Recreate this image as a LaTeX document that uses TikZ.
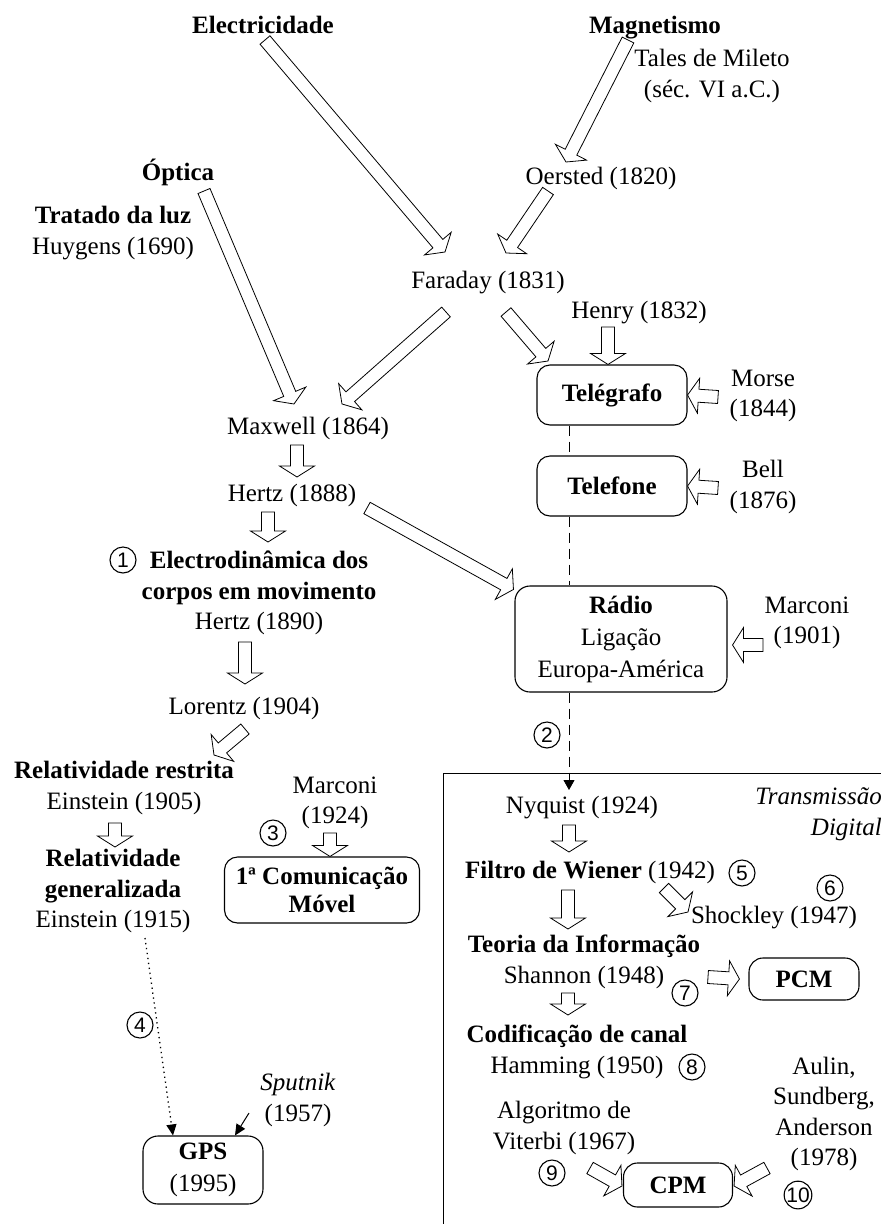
\documentclass[tikz,border=0pt]{standalone}
\usepackage{fontspec}
\setmainfont{Liberation Serif}
\newfontfamily\numfont{Liberation Sans}
\usetikzlibrary{calc,arrows.meta}

\tikzset{
  lbl/.style={inner sep=0pt, align=center},
  single/.style={lbl, text height=17.5pt, text depth=5.5pt},
  box/.style={draw, line width=1.1pt, rounded corners=13pt, fill=white,
    inner sep=0pt, align=center},
  num/.style={circle, draw, line width=1.1pt, inner sep=0pt, minimum size=26pt,
    font=\numfont\fontsize{21}{21}\selectfont},
  % hollow block arrow from the start point (tail) to the target point (tip)
  blk/.style={draw, line width=0.8pt, fill=white, line join=miter,
    to path={let \p1=(\tikztostart), \p2=(\tikztotarget),
      \n1={atan2(\y2-\y1,\x2-\x1)}, \n2={veclen(\x2-\x1,\y2-\y1)-11} in
      ($(\p1)+(\n1+90:6.5)$) -- ++(\n1:\n2) -- ++(\n1+90:11) -- (\p2)
      -- ($(\p2)+(\n1+180:11)+(\n1-90:17.5)$) -- ++(\n1+90:11)
      -- ($(\p1)+(\n1-90:6.5)$) -- cycle}},
  dashlink/.style={line width=0.9pt, dash pattern=on 10pt off 6pt},
  dotlink/.style={line width=1.3pt, dash pattern=on 1.3pt off 3.7pt,
    -{Triangle[length=11pt,width=10pt]}},
  solidlink/.style={line width=1pt, -{Triangle[length=11pt,width=10pt]}},
}

\begin{document}
\begin{tikzpicture}[x=1pt, y=1pt, font=\fontsize{25}{30.5}\selectfont]
\useasboundingbox (0,0) rectangle (881,-1224);

% ---------- origins ----------
\node[single] (elec) at (263,-27) {\textbf{Electricidade}};
\node[single] (magn) at (655,-27) {\textbf{Magnetismo}};
\node[lbl] (tales) at (712,-76) {Tales de Mileto\\(séc. VI a.C.)};
\node[single] (optica) at (178,-174) {\textbf{Óptica}};
\node[lbl] (tratado) at (113,-233) {\textbf{Tratado da luz}\\Huygens (1690)};
\node[single] (oersted) at (601,-178) {Oersted (1820)};
\node[single] (faraday) at (488,-282) {Faraday (1831)};
\node[single] (henry) at (639,-312) {Henry (1832)};

% ---------- telecommunications ----------
\node[box, minimum width=150pt, minimum height=60pt] (telegrafo) at (612,-395) {\textbf{Telégrafo}};
\node[lbl] (morse) at (763,-396) {Morse\\(1844)};
\node[box, minimum width=150pt, minimum height=60pt] (telefone) at (612,-486) {\textbf{Telefone}};
\node[lbl] (bell) at (763,-487) {Bell\\(1876)};
\node[box, minimum width=212pt, minimum height=106pt, rounded corners=15pt,
  font=\fontsize{25}{32}\selectfont] (radio) at (621,-639) {\textbf{Rádio}\\Ligação\\Europa-América};
\node[lbl] (marconiA) at (807,-623) {Marconi\\(1901)};

% ---------- physics ----------
\node[single] (maxwell) at (308,-428) {Maxwell (1864)};
\node[single] (hertzA) at (292,-495) {Hertz (1888)};
\node[num] (n1) at (123,-560) {1};
\node[lbl] (electro) at (259,-593) {\textbf{Electrodinâmica dos}\\\textbf{corpos em movimento}\\Hertz (1890)};
\node[single] (lorentz) at (244,-708) {Lorentz (1904)};
\node[lbl] (restrita) at (124,-788) {\textbf{Relatividade restrita}\\Einstein (1905)};
\node[lbl] (geral) at (113,-891) {\textbf{Relatividade}\\\textbf{generalizada}\\Einstein (1915)};
\node[lbl] (marconiB) at (335,-803) {Marconi\\(1924)};
\node[num] (n3) at (273,-833) {3};
\node[box, minimum width=195pt, minimum height=66pt, font=\fontsize{25}{28}\selectfont]
  (movel) at (322,-890) {\textbf{1ª Comunicação}\\\textbf{Móvel}};
\node[num] (n4) at (140,-1025) {4};
\node[box, minimum width=120pt, minimum height=68pt, rounded corners=15pt,
  font=\fontsize{25}{32}\selectfont] (gps) at (203,-1170) {\textbf{GPS}\\(1995)};
\node[lbl] (sputnik) at (298,-1100) {\textit{Sputnik}\\(1957)};

% ---------- digital transmission ----------
\draw[line width=1pt] (443,-1224) |- (881,-773);
\node[lbl, anchor=east, align=right] (transm) at (882,-814) {\textit{Transmissão}\\\textit{Digital}};
\node[num] (n2) at (547,-735) {2};
\node[single] (nyquist) at (582,-807) {Nyquist (1924)};
\node[single] (filtro) at (590,-872) {\textbf{Filtro de Wiener} (1942)};
\node[num] (n5) at (742,-873) {5};
\node[num] (n6) at (830,-888) {6};
\node[single] (shockley) at (774,-917) {Shockley (1947)};
\node[lbl] (teoria) at (584,-962) {\textbf{Teoria da Informação}\\Shannon (1948)};
\node[num] (n7) at (685,-993) {7};
\node[box, minimum width=110pt, minimum height=42pt, rounded corners=14pt] (pcm) at (804,-979) {\textbf{PCM}};
\node[lbl] (codif) at (577,-1052) {\textbf{Codificação de canal}\\Hamming (1950)};
\node[num] (n8) at (692,-1067) {8};
\node[lbl] (viterbi) at (564,-1128) {Algoritmo de\\Viterbi (1967)};
\node[num] (n9) at (552,-1173) {9};
\node[box, minimum width=109pt, minimum height=44pt, rounded corners=14pt] (cpm) at (678,-1185) {\textbf{CPM}};
\node[lbl] (aulin) at (824,-1114) {Aulin,\\Sundberg,\\Anderson\\(1978)};
\node[num] (n10) at (798,-1195) {10};

% ---------- block arrows ----------
\draw[blk] ([shift={(2,-13)}]elec.center) to ([shift={(-43,30)}]faraday.center);
\draw[blk] ([shift={(-27,-13)}]magn.center) to ([shift={(-35,16)}]oersted.center);
\draw[blk] ([shift={(-53,-13)}]oersted.center) to ([shift={(18,29)}]faraday.center);
\draw[blk] ([shift={(26,-17)}]optica.center) to ([shift={(-14,24)}]maxwell.center);
\draw[blk] ([shift={(-42,-30)}]faraday.center) to ([shift={(34,24)}]maxwell.center);
\draw[blk] ([shift={(18,-30)}]faraday.center) to ([shift={(-64,34)}]telegrafo.center);
\draw[blk] ([shift={(-31,-15)}]henry.center) to ([xshift=-4pt]telegrafo.north);
\draw[blk] ([shift={(-45,-1)}]morse.center) to (telegrafo.east);
\draw[blk] ([shift={(-45,-1)}]bell.center) to (telefone.east);
\draw[blk] ([shift={(-44,-22)}]marconiA.center) to ([shift={(5,-6)}]radio.east);
\draw[blk] ([shift={(75,-13)}]hertzA.center) to ([shift={(-1,-4)}]radio.north west);
\draw[blk] ([shift={(-11,-17)}]maxwell.center) to ([shift={(5,18)}]hertzA.center);
\draw[blk] ([shift={(-24,-17)}]hertzA.center) to ([shift={(9,51)}]electro.center);
\draw[blk] ([shift={(-14,-49)}]electro.center) to ([shift={(1,24)}]lorentz.center);
\draw[blk] ([shift={(1,-21)}]lorentz.center) to ([shift={(90,33)}]restrita.center);
\draw[blk] ([shift={(-9,-35)}]restrita.center) to ([shift={(2,44)}]geral.center);
\draw[blk] ([shift={(-5,-30)}]marconiB.center) to ([xshift=8pt]movel.north);
\draw[blk] ([shift={(-13,-18)}]nyquist.center) to ([shift={(-21,20)}]filtro.center);
\draw[blk] ([shift={(-22,-18)}]filtro.center) to ([shift={(-16,33)}]teoria.center);
\draw[blk] ([shift={(74,-16)}]filtro.center) to ([shift={(-86,5)}]shockley.center);
\draw[blk] ([shift={(124,-15)}]teoria.center) to ([xshift=-9pt]pcm.west);
\draw[blk] ([shift={(-16,-31)}]teoria.center) to ([shift={(-9,37)}]codif.center);
\draw[blk] ([shift={(26,-40)}]viterbi.center) to ([shift={(-1,-1)}]cpm.west);
\draw[blk] ([shift={(-57,-54)}]aulin.center) to ([shift={(1,-1)}]cpm.east);

% ---------- thin links ----------
\draw[dashlink] ([xshift=-43pt]telegrafo.south) -- ([xshift=-43pt]telefone.north);
\draw[dashlink] ([xshift=-43pt]telefone.south) -- ([xshift=-52pt]radio.north);
\draw[dashlink, -{Triangle[length=10pt,width=11pt]}] ([xshift=-52pt]radio.south) -- ([shift={(-13,17)}]nyquist.center);
\draw[dotlink] ([shift={(32,-47)}]geral.center) -- ([xshift=-30pt]gps.north);
\draw[solidlink] ([shift={(-49,-13)}]sputnik.center) -- ([xshift=32pt]gps.north);
\end{tikzpicture}
\end{document}
